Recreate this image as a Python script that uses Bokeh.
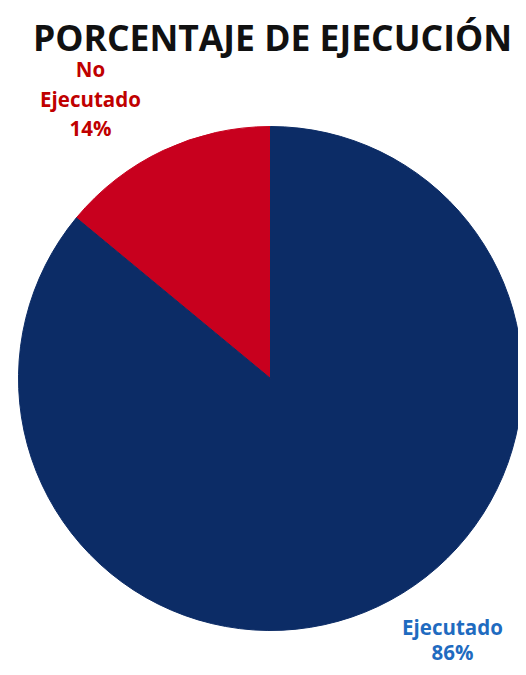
from bokeh.plotting import figure
from bokeh.models import Range1d, ColumnDataSource
from bokeh.core.properties import value
from bokeh.embed import file_html
from bokeh.resources import INLINE
import numpy as np

categories = ["No Ejecutado", "Ejecutado"]
percent = [14, 86]
colors = ["#C8001E", "#0C2C66"]
label_lines = [["No", "Ejecutado", "14%"], ["Ejecutado", "86%"]]
label_colors = ["#C00000", "#1F6BC0"]

W, H = 518, 667
TOP = 675  # data y = TOP - pixel row
p = figure(width=W, height=H, output_backend="svg", toolbar_location=None,
           x_range=Range1d(0, W), y_range=Range1d(TOP - H, TOP),
           min_border=0, outline_line_color=None)
p.axis.visible = False
p.grid.visible = False
p.background_fill_color = "white"

cx, cy, r = 270, TOP - 378, 252
fr = np.array(percent) / sum(percent) * 2 * np.pi
start = np.pi / 2 + np.concatenate([[0], np.cumsum(fr)[:-1]])
end = start + fr
src = ColumnDataSource(dict(x=[cx] * 2, y=[cy] * 2, start=start, end=end, color=colors, cat=categories))
p.wedge(x="x", y="y", radius=r, start_angle="start", end_angle="end", fill_color="color",
        line_color="color", source=src)

# title
p.text(x=[272], y=[TOP - 36], text=["PORCENTAJE DE EJECUCIÓN"], text_font=value("Open Sans"),
       text_font_style="bold", text_font_size="35.5px", text_color="#111111",
       text_align="center", text_baseline="middle")

label_pos = [(90, [68, 98, 127]), (452, [626, 651])]
for (lx, ys), lines, col in zip(label_pos, label_lines, label_colors):
    p.text(x=[lx] * len(lines), y=[TOP - yy for yy in ys], text=lines,
           text_font=value("Open Sans"), text_font_style="bold", text_font_size="20.5px",
           text_color=col, text_align="center", text_baseline="middle")

open("out.html", "w").write(file_html(p, INLINE))
